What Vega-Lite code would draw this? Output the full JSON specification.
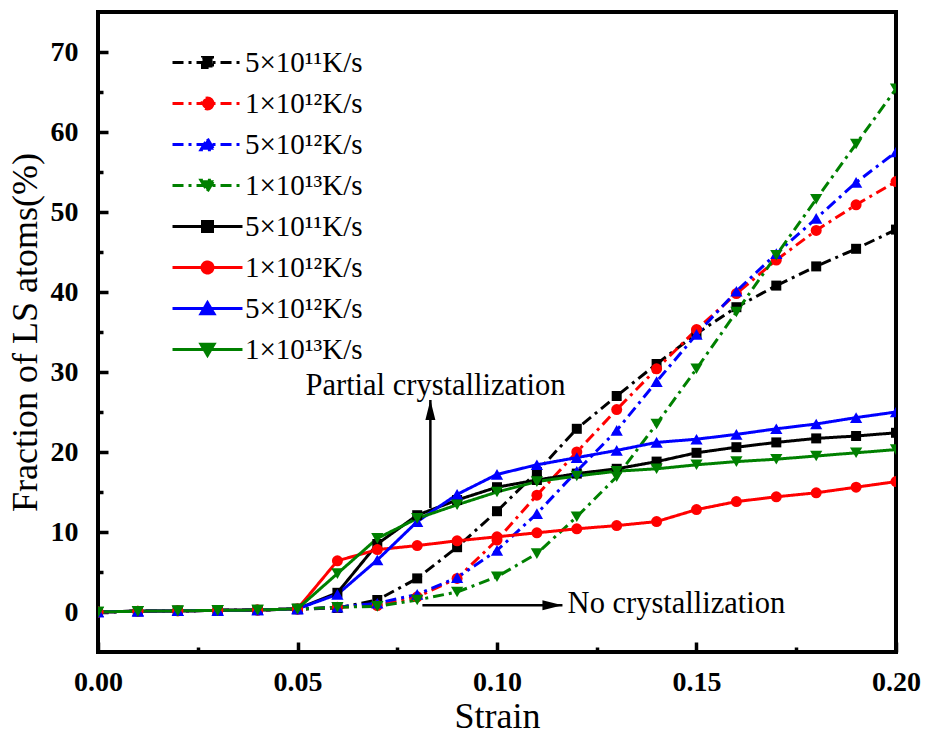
{
  "$schema": "https://vega.github.io/schema/vega-lite/v6.json",
  "autosize": "none",
  "width": 798,
  "height": 640,
  "padding": {"left": 98, "top": 12, "right": 29, "bottom": 88},
  "background": "#ffffff",
  "datasets": {
    "curves": [
      {"c": "5×10¹¹K/s A", "x": 0, "y": 0},
      {"c": "5×10¹¹K/s A", "x": 0.01, "y": 0.1},
      {"c": "5×10¹¹K/s A", "x": 0.02, "y": 0.15},
      {"c": "5×10¹¹K/s A", "x": 0.03, "y": 0.2},
      {"c": "5×10¹¹K/s A", "x": 0.04, "y": 0.25},
      {"c": "5×10¹¹K/s A", "x": 0.05, "y": 0.35},
      {"c": "5×10¹¹K/s A", "x": 0.06, "y": 0.5},
      {"c": "5×10¹¹K/s A", "x": 0.07, "y": 1.5},
      {"c": "5×10¹¹K/s A", "x": 0.08, "y": 4.2},
      {"c": "5×10¹¹K/s A", "x": 0.09, "y": 8.1},
      {"c": "5×10¹¹K/s A", "x": 0.10, "y": 12.6},
      {"c": "5×10¹¹K/s A", "x": 0.11, "y": 17.5},
      {"c": "5×10¹¹K/s A", "x": 0.12, "y": 22.9},
      {"c": "5×10¹¹K/s A", "x": 0.13, "y": 27.0},
      {"c": "5×10¹¹K/s A", "x": 0.14, "y": 31.0},
      {"c": "5×10¹¹K/s A", "x": 0.15, "y": 34.8},
      {"c": "5×10¹¹K/s A", "x": 0.16, "y": 38.1},
      {"c": "5×10¹¹K/s A", "x": 0.17, "y": 40.8},
      {"c": "5×10¹¹K/s A", "x": 0.18, "y": 43.2},
      {"c": "5×10¹¹K/s A", "x": 0.19, "y": 45.4},
      {"c": "5×10¹¹K/s A", "x": 0.20, "y": 47.8},
      {"c": "1×10¹²K/s A", "x": 0, "y": 0},
      {"c": "1×10¹²K/s A", "x": 0.01, "y": 0.1},
      {"c": "1×10¹²K/s A", "x": 0.02, "y": 0.15},
      {"c": "1×10¹²K/s A", "x": 0.03, "y": 0.2},
      {"c": "1×10¹²K/s A", "x": 0.04, "y": 0.25},
      {"c": "1×10¹²K/s A", "x": 0.05, "y": 0.35},
      {"c": "1×10¹²K/s A", "x": 0.06, "y": 0.6},
      {"c": "1×10¹²K/s A", "x": 0.07, "y": 0.8},
      {"c": "1×10¹²K/s A", "x": 0.08, "y": 1.9},
      {"c": "1×10¹²K/s A", "x": 0.09, "y": 4.2},
      {"c": "1×10¹²K/s A", "x": 0.10, "y": 9.0},
      {"c": "1×10¹²K/s A", "x": 0.11, "y": 14.6},
      {"c": "1×10¹²K/s A", "x": 0.12, "y": 20.0},
      {"c": "1×10¹²K/s A", "x": 0.13, "y": 25.3},
      {"c": "1×10¹²K/s A", "x": 0.14, "y": 30.4},
      {"c": "1×10¹²K/s A", "x": 0.15, "y": 35.3},
      {"c": "1×10¹²K/s A", "x": 0.16, "y": 39.8},
      {"c": "1×10¹²K/s A", "x": 0.17, "y": 44.0},
      {"c": "1×10¹²K/s A", "x": 0.18, "y": 47.7},
      {"c": "1×10¹²K/s A", "x": 0.19, "y": 50.9},
      {"c": "1×10¹²K/s A", "x": 0.20, "y": 53.8},
      {"c": "5×10¹²K/s A", "x": 0, "y": 0},
      {"c": "5×10¹²K/s A", "x": 0.01, "y": 0.1},
      {"c": "5×10¹²K/s A", "x": 0.02, "y": 0.15},
      {"c": "5×10¹²K/s A", "x": 0.03, "y": 0.2},
      {"c": "5×10¹²K/s A", "x": 0.04, "y": 0.25},
      {"c": "5×10¹²K/s A", "x": 0.05, "y": 0.35},
      {"c": "5×10¹²K/s A", "x": 0.06, "y": 0.6},
      {"c": "5×10¹²K/s A", "x": 0.07, "y": 1.1},
      {"c": "5×10¹²K/s A", "x": 0.08, "y": 2.2},
      {"c": "5×10¹²K/s A", "x": 0.09, "y": 4.3},
      {"c": "5×10¹²K/s A", "x": 0.10, "y": 7.7},
      {"c": "5×10¹²K/s A", "x": 0.11, "y": 12.3},
      {"c": "5×10¹²K/s A", "x": 0.12, "y": 17.6},
      {"c": "5×10¹²K/s A", "x": 0.13, "y": 22.7},
      {"c": "5×10¹²K/s A", "x": 0.14, "y": 28.8},
      {"c": "5×10¹²K/s A", "x": 0.15, "y": 34.7},
      {"c": "5×10¹²K/s A", "x": 0.16, "y": 40.1},
      {"c": "5×10¹²K/s A", "x": 0.17, "y": 44.8},
      {"c": "5×10¹²K/s A", "x": 0.18, "y": 49.2},
      {"c": "5×10¹²K/s A", "x": 0.19, "y": 53.7},
      {"c": "5×10¹²K/s A", "x": 0.20, "y": 57.5},
      {"c": "1×10¹³K/s A", "x": 0, "y": 0},
      {"c": "1×10¹³K/s A", "x": 0.01, "y": 0.1},
      {"c": "1×10¹³K/s A", "x": 0.02, "y": 0.15},
      {"c": "1×10¹³K/s A", "x": 0.03, "y": 0.2},
      {"c": "1×10¹³K/s A", "x": 0.04, "y": 0.25},
      {"c": "1×10¹³K/s A", "x": 0.05, "y": 0.35},
      {"c": "1×10¹³K/s A", "x": 0.06, "y": 0.6},
      {"c": "1×10¹³K/s A", "x": 0.07, "y": 0.7},
      {"c": "1×10¹³K/s A", "x": 0.08, "y": 1.5},
      {"c": "1×10¹³K/s A", "x": 0.09, "y": 2.5},
      {"c": "1×10¹³K/s A", "x": 0.10, "y": 4.4},
      {"c": "1×10¹³K/s A", "x": 0.11, "y": 7.3},
      {"c": "1×10¹³K/s A", "x": 0.12, "y": 11.9},
      {"c": "1×10¹³K/s A", "x": 0.13, "y": 16.9},
      {"c": "1×10¹³K/s A", "x": 0.14, "y": 23.5},
      {"c": "1×10¹³K/s A", "x": 0.15, "y": 30.4},
      {"c": "1×10¹³K/s A", "x": 0.16, "y": 37.5},
      {"c": "1×10¹³K/s A", "x": 0.17, "y": 44.6},
      {"c": "1×10¹³K/s A", "x": 0.18, "y": 51.6},
      {"c": "1×10¹³K/s A", "x": 0.19, "y": 58.5},
      {"c": "1×10¹³K/s A", "x": 0.20, "y": 65.4},
      {"c": "5×10¹¹K/s B", "x": 0, "y": 0},
      {"c": "5×10¹¹K/s B", "x": 0.01, "y": 0.1},
      {"c": "5×10¹¹K/s B", "x": 0.02, "y": 0.15},
      {"c": "5×10¹¹K/s B", "x": 0.03, "y": 0.2},
      {"c": "5×10¹¹K/s B", "x": 0.04, "y": 0.25},
      {"c": "5×10¹¹K/s B", "x": 0.05, "y": 0.4},
      {"c": "5×10¹¹K/s B", "x": 0.06, "y": 2.4},
      {"c": "5×10¹¹K/s B", "x": 0.07, "y": 8.5},
      {"c": "5×10¹¹K/s B", "x": 0.08, "y": 12.1},
      {"c": "5×10¹¹K/s B", "x": 0.09, "y": 14.0},
      {"c": "5×10¹¹K/s B", "x": 0.10, "y": 15.6},
      {"c": "5×10¹¹K/s B", "x": 0.11, "y": 16.5},
      {"c": "5×10¹¹K/s B", "x": 0.12, "y": 17.3},
      {"c": "5×10¹¹K/s B", "x": 0.13, "y": 17.9},
      {"c": "5×10¹¹K/s B", "x": 0.14, "y": 18.8},
      {"c": "5×10¹¹K/s B", "x": 0.15, "y": 19.9},
      {"c": "5×10¹¹K/s B", "x": 0.16, "y": 20.6},
      {"c": "5×10¹¹K/s B", "x": 0.17, "y": 21.2},
      {"c": "5×10¹¹K/s B", "x": 0.18, "y": 21.7},
      {"c": "5×10¹¹K/s B", "x": 0.19, "y": 22.0},
      {"c": "5×10¹¹K/s B", "x": 0.20, "y": 22.4},
      {"c": "1×10¹²K/s B", "x": 0, "y": 0},
      {"c": "1×10¹²K/s B", "x": 0.01, "y": 0.1},
      {"c": "1×10¹²K/s B", "x": 0.02, "y": 0.15},
      {"c": "1×10¹²K/s B", "x": 0.03, "y": 0.2},
      {"c": "1×10¹²K/s B", "x": 0.04, "y": 0.25},
      {"c": "1×10¹²K/s B", "x": 0.05, "y": 0.4},
      {"c": "1×10¹²K/s B", "x": 0.06, "y": 6.4},
      {"c": "1×10¹²K/s B", "x": 0.07, "y": 7.8},
      {"c": "1×10¹²K/s B", "x": 0.08, "y": 8.3},
      {"c": "1×10¹²K/s B", "x": 0.09, "y": 8.9},
      {"c": "1×10¹²K/s B", "x": 0.10, "y": 9.4},
      {"c": "1×10¹²K/s B", "x": 0.11, "y": 9.9},
      {"c": "1×10¹²K/s B", "x": 0.12, "y": 10.4},
      {"c": "1×10¹²K/s B", "x": 0.13, "y": 10.8},
      {"c": "1×10¹²K/s B", "x": 0.14, "y": 11.3},
      {"c": "1×10¹²K/s B", "x": 0.15, "y": 12.8},
      {"c": "1×10¹²K/s B", "x": 0.16, "y": 13.8},
      {"c": "1×10¹²K/s B", "x": 0.17, "y": 14.4},
      {"c": "1×10¹²K/s B", "x": 0.18, "y": 14.9},
      {"c": "1×10¹²K/s B", "x": 0.19, "y": 15.6},
      {"c": "1×10¹²K/s B", "x": 0.20, "y": 16.3},
      {"c": "5×10¹²K/s B", "x": 0, "y": 0},
      {"c": "5×10¹²K/s B", "x": 0.01, "y": 0.1},
      {"c": "5×10¹²K/s B", "x": 0.02, "y": 0.15},
      {"c": "5×10¹²K/s B", "x": 0.03, "y": 0.2},
      {"c": "5×10¹²K/s B", "x": 0.04, "y": 0.25},
      {"c": "5×10¹²K/s B", "x": 0.05, "y": 0.4},
      {"c": "5×10¹²K/s B", "x": 0.06, "y": 2.2},
      {"c": "5×10¹²K/s B", "x": 0.07, "y": 6.5},
      {"c": "5×10¹²K/s B", "x": 0.08, "y": 11.3},
      {"c": "5×10¹²K/s B", "x": 0.09, "y": 14.7},
      {"c": "5×10¹²K/s B", "x": 0.10, "y": 17.2},
      {"c": "5×10¹²K/s B", "x": 0.11, "y": 18.4},
      {"c": "5×10¹²K/s B", "x": 0.12, "y": 19.3},
      {"c": "5×10¹²K/s B", "x": 0.13, "y": 20.2},
      {"c": "5×10¹²K/s B", "x": 0.14, "y": 21.2},
      {"c": "5×10¹²K/s B", "x": 0.15, "y": 21.6},
      {"c": "5×10¹²K/s B", "x": 0.16, "y": 22.2},
      {"c": "5×10¹²K/s B", "x": 0.17, "y": 22.9},
      {"c": "5×10¹²K/s B", "x": 0.18, "y": 23.5},
      {"c": "5×10¹²K/s B", "x": 0.19, "y": 24.3},
      {"c": "5×10¹²K/s B", "x": 0.20, "y": 25.0},
      {"c": "1×10¹³K/s B", "x": 0, "y": 0},
      {"c": "1×10¹³K/s B", "x": 0.01, "y": 0.1},
      {"c": "1×10¹³K/s B", "x": 0.02, "y": 0.15},
      {"c": "1×10¹³K/s B", "x": 0.03, "y": 0.2},
      {"c": "1×10¹³K/s B", "x": 0.04, "y": 0.25},
      {"c": "1×10¹³K/s B", "x": 0.05, "y": 0.4},
      {"c": "1×10¹³K/s B", "x": 0.06, "y": 4.8},
      {"c": "1×10¹³K/s B", "x": 0.07, "y": 9.2},
      {"c": "1×10¹³K/s B", "x": 0.08, "y": 11.7},
      {"c": "1×10¹³K/s B", "x": 0.09, "y": 13.4},
      {"c": "1×10¹³K/s B", "x": 0.10, "y": 15.0},
      {"c": "1×10¹³K/s B", "x": 0.11, "y": 16.3},
      {"c": "1×10¹³K/s B", "x": 0.12, "y": 17.0},
      {"c": "1×10¹³K/s B", "x": 0.13, "y": 17.6},
      {"c": "1×10¹³K/s B", "x": 0.14, "y": 17.9},
      {"c": "1×10¹³K/s B", "x": 0.15, "y": 18.4},
      {"c": "1×10¹³K/s B", "x": 0.16, "y": 18.8},
      {"c": "1×10¹³K/s B", "x": 0.17, "y": 19.1},
      {"c": "1×10¹³K/s B", "x": 0.18, "y": 19.5},
      {"c": "1×10¹³K/s B", "x": 0.19, "y": 19.9},
      {"c": "1×10¹³K/s B", "x": 0.20, "y": 20.3}
    ],
    "notes": [
      {"t": "Partial crystallization", "x": 0.052, "y": 27.1},
      {"t": "No crystallization", "x": 0.1177, "y": -0.15}
    ],
    "arrows": [
      {"dir": "up", "x": 0.0833, "y": 13.0, "x2": 0.0833, "y2": 26.5},
      {"dir": "right", "x": 0.0813, "y": 0.83, "x2": 0.1164, "y2": 0.83}
    ]
  },
  "encoding": {
    "x": {"field": "x", "type": "quantitative", "title": "Strain",
      "scale": {"domain": [0, 0.2], "nice": false, "zero": false},
      "axis": {
        "values": [0, 0.025, 0.05, 0.075, 0.1, 0.125, 0.15, 0.175, 0.2],
        "labelExpr": "round(datum.value*40) % 2 == 0 ? format(datum.value, '.2f') : ''",
        "tickSize": {"condition": {"test": "round(datum.value*40) % 2 == 0", "value": -10}, "value": -5},
        "labelFlush": false,
        "labelPadding": 26,
        "titlePadding": 3
      }
    },
    "y": {"field": "y", "type": "quantitative", "title": "Fraction of LS atoms(%)",
      "scale": {"domain": [-5, 75], "nice": false, "zero": false},
      "axis": {
        "values": [0, 5, 10, 15, 20, 25, 30, 35, 40, 45, 50, 55, 60, 65, 70],
        "labelExpr": "datum.value % 10 == 0 ? format(datum.value, 'd') : ''",
        "tickSize": {"condition": {"test": "datum.value % 10 == 0", "value": -10}, "value": -5},
        "labelFlush": false,
        "labelPadding": 30,
        "titlePadding": 6
      }
    }
  },
  "layer": [
    {
      "data": {"name": "curves"},
      "transform": [{"filter": "false"}],
      "mark": {"type": "point", "filled": true, "opacity": 1},
      "encoding": {
        "color": {"field": "c", "type": "nominal", "title": null,
          "legend": {"labelExpr": "split(datum.label, ' ')[0]"},
          "scale": {"domain": ["5×10¹¹K/s A", "1×10¹²K/s A", "5×10¹²K/s A", "1×10¹³K/s A", "5×10¹¹K/s B", "1×10¹²K/s B", "5×10¹²K/s B", "1×10¹³K/s B"],
            "range": ["#000000", "#ff0000", "#0000ff", "#008000", "#000000", "#ff0000", "#0000ff", "#008000"]}},
        "stroke": {"field": "c", "type": "nominal", "title": null,
          "legend": {"labelExpr": "split(datum.label, ' ')[0]"},
          "scale": {"domain": ["5×10¹¹K/s A", "1×10¹²K/s A", "5×10¹²K/s A", "1×10¹³K/s A", "5×10¹¹K/s B", "1×10¹²K/s B", "5×10¹²K/s B", "1×10¹³K/s B"],
            "range": ["#000000", "#ff0000", "#0000ff", "#008000", "#000000", "#ff0000", "#0000ff", "#008000"]}},
        "strokeDash": {"field": "c", "type": "nominal", "title": null,
          "legend": {"labelExpr": "split(datum.label, ' ')[0]"},
          "scale": {"domain": ["5×10¹¹K/s A", "1×10¹²K/s A", "5×10¹²K/s A", "1×10¹³K/s A", "5×10¹¹K/s B", "1×10¹²K/s B", "5×10¹²K/s B", "1×10¹³K/s B"],
            "range": [[11, 5, 3, 5], [11, 5, 3, 5], [11, 5, 3, 5], [11, 5, 3, 5], [1, 0], [1, 0], [1, 0], [1, 0]]}},
        "shape": {"field": "c", "type": "nominal", "title": null,
          "legend": {"labelExpr": "split(datum.label, ' ')[0]"},
          "scale": {"domain": ["5×10¹¹K/s A", "1×10¹²K/s A", "5×10¹²K/s A", "1×10¹³K/s A", "5×10¹¹K/s B", "1×10¹²K/s B", "5×10¹²K/s B", "1×10¹³K/s B"],
            "range": [
              "M-3,0L3,0M-0.43,-0.43L0.43,-0.43L0.43,0.43L-0.43,0.43Z",
              "M-3,0L3,0M0.47,0A0.47,0.47,0,1,1,-0.47,0A0.47,0.47,0,1,1,0.47,0Z",
              "M-3,0L3,0M0,-0.5L0.56,0.45L-0.56,0.45Z",
              "M-3,0L3,0M0,0.5L0.56,-0.45L-0.56,-0.45Z",
              "M-3,0L3,0M-0.43,-0.43L0.43,-0.43L0.43,0.43L-0.43,0.43Z",
              "M-3,0L3,0M0.47,0A0.47,0.47,0,1,1,-0.47,0A0.47,0.47,0,1,1,0.47,0Z",
              "M-3,0L3,0M0,-0.5L0.56,0.45L-0.56,0.45Z",
              "M-3,0L3,0M0,0.5L0.56,-0.45L-0.56,-0.45Z"
            ]}}
      }
    },
    {
      "data": {"name": "curves"},
      "mark": {"type": "line", "strokeWidth": 3, "clip": true},
      "encoding": {
        "color": {"field": "c", "type": "nominal", "title": null},
        "strokeDash": {"field": "c", "type": "nominal", "title": null}
      }
    },
    {
      "data": {"name": "curves"},
      "transform": [{"filter": "indexof(datum.c, '5×10¹¹') == 0"}],
      "mark": {"type": "point", "shape": "square", "filled": true, "opacity": 1, "size": 100, "clip": true},
      "encoding": {"color": {"field": "c", "type": "nominal", "title": null}}
    },
    {
      "data": {"name": "curves"},
      "transform": [{"filter": "indexof(datum.c, '1×10¹²') == 0"}],
      "mark": {"type": "point", "shape": "circle", "filled": true, "opacity": 1, "size": 121, "clip": true},
      "encoding": {"color": {"field": "c", "type": "nominal", "title": null}}
    },
    {
      "data": {"name": "curves"},
      "transform": [{"filter": "indexof(datum.c, '5×10¹²') == 0"}],
      "mark": {"type": "point", "shape": "triangle-up", "filled": true, "opacity": 1, "size": 150, "clip": true},
      "encoding": {"color": {"field": "c", "type": "nominal", "title": null}}
    },
    {
      "data": {"name": "curves"},
      "transform": [{"filter": "indexof(datum.c, '1×10¹³') == 0"}],
      "mark": {"type": "point", "shape": "triangle-down", "filled": true, "opacity": 1, "size": 150, "clip": true},
      "encoding": {"color": {"field": "c", "type": "nominal", "title": null}}
    },
    {
      "data": {"name": "arrows"},
      "mark": {"type": "rule", "color": "#000000", "strokeWidth": 2.5},
      "encoding": {
        "x2": {"field": "x2"},
        "y2": {"field": "y2"}
      }
    },
    {
      "data": {"name": "arrows"},
      "transform": [{"filter": "datum.dir == 'up'"}],
      "mark": {"type": "point", "shape": "M0,0L0.5,2L-0.5,2Z", "size": 400, "filled": true, "opacity": 1, "color": "#000000"},
      "encoding": {
        "x": {"field": "x2", "type": "quantitative"},
        "y": {"field": "y2", "type": "quantitative"}
      }
    },
    {
      "data": {"name": "arrows"},
      "transform": [{"filter": "datum.dir == 'right'"}],
      "mark": {"type": "point", "shape": "M0,0L-2,-0.5L-2,0.5Z", "size": 400, "filled": true, "opacity": 1, "color": "#000000"},
      "encoding": {
        "x": {"field": "x2", "type": "quantitative"},
        "y": {"field": "y2", "type": "quantitative"}
      }
    },
    {
      "data": {"name": "notes"},
      "mark": {"type": "text", "align": "left", "baseline": "alphabetic", "font": "Liberation Serif", "fontSize": 30.5, "color": "#000000"},
      "encoding": {"text": {"field": "t"}}
    }
  ],
  "config": {
    "view": {"stroke": "#000000", "strokeWidth": 4},
    "font": "Liberation Serif",
    "axis": {
      "domain": false,
      "grid": false,
      "labelFont": "Liberation Serif",
      "labelFontSize": 28,
      "labelFontWeight": "bold",
      "labelColor": "#000000",
      "titleFont": "Liberation Serif",
      "titleFontSize": 36,
      "titleFontWeight": "normal",
      "titleColor": "#000000",
      "tickColor": "#000000",
      "tickWidth": 3.5
    },
    "legend": {
      "orient": "none",
      "legendX": 95,
      "legendY": 36,
      "padding": 0,
      "labelFont": "Liberation Serif",
      "labelFontSize": 29,
      "labelColor": "#000000",
      "labelLimit": 0,
      "labelOffset": 23,
      "symbolSize": 544,
      "symbolStrokeWidth": 3,
      "rowPadding": 11
    }
  }
}
